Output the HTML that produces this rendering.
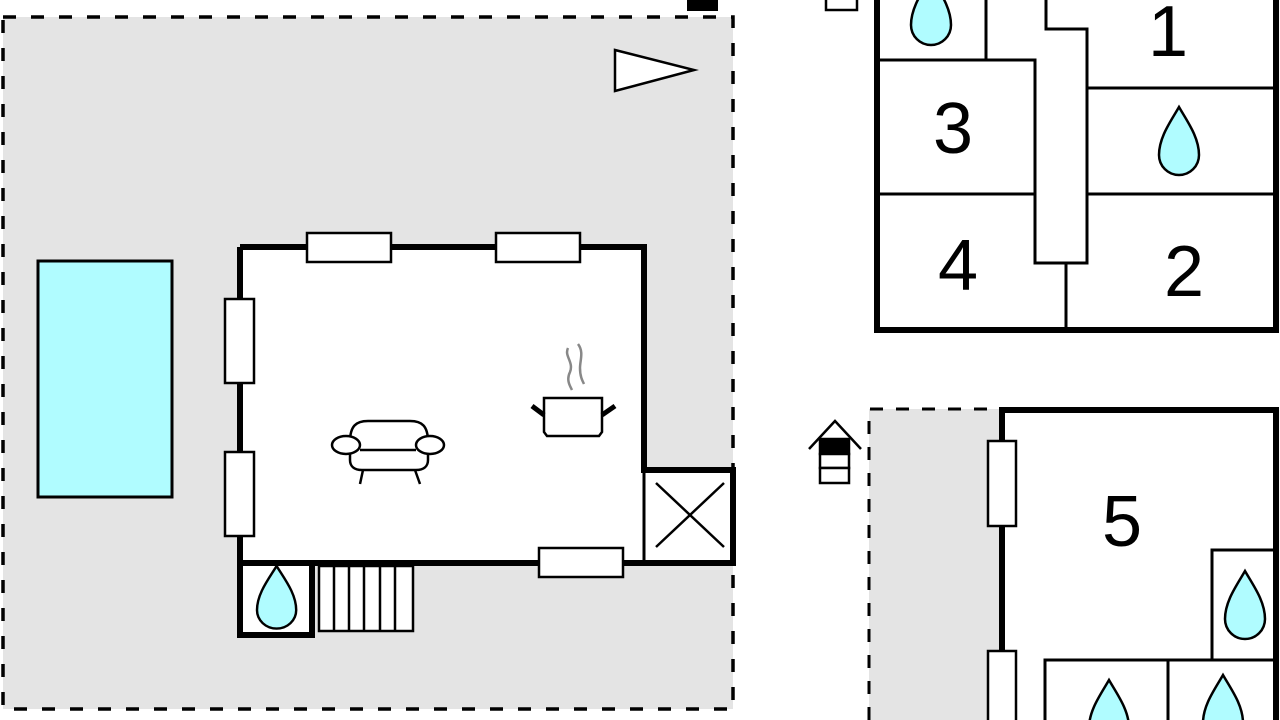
<!DOCTYPE html>
<html><head><meta charset="utf-8"><style>html,body{margin:0;padding:0;background:#fff;width:1280px;height:720px;overflow:hidden}svg{display:block}</style></head>
<body>
<svg width="1280" height="720" viewBox="0 0 1280 720" xmlns="http://www.w3.org/2000/svg">
<defs>
<path id="drop" d="M20 0 C28 14 40 30 40 48 A20 20 0 0 1 0 48 C0 30 12 14 20 0Z" fill="#b0fcff" stroke="#000" stroke-width="2.5"/>
</defs>
<rect x="3" y="17" width="730" height="692" fill="#e4e4e4"/>
<rect x="3" y="17" width="730" height="692" fill="none" stroke="#000" stroke-width="3.5" stroke-dasharray="13 15"/>
<rect x="687" y="0" width="31" height="11" fill="#000"/>
<polygon points="615,50 694,70 615,91" fill="#fff" stroke="#000" stroke-width="2.5"/>
<rect x="38" y="261" width="134" height="236" fill="#b0fcff" stroke="#000" stroke-width="3"/>
<rect x="240" y="247" width="404" height="316" fill="#fff"/>
<rect x="644" y="470" width="89" height="93" fill="#fff"/>
<path d="M240 247 H644 V470 H733 V563 H312 M240 247 V635" fill="none" stroke="#000" stroke-width="6"/>
<line x1="644" y1="470" x2="644" y2="563" stroke="#000" stroke-width="3"/>
<line x1="656" y1="483" x2="724" y2="547" stroke="#000" stroke-width="2.5"/>
<line x1="724" y1="483" x2="656" y2="547" stroke="#000" stroke-width="2.5"/>
<rect x="240" y="563" width="72" height="72" fill="#fff" stroke="#000" stroke-width="6"/>
<use href="#drop" x="257" y="566" transform="translate(257 566) scale(0.98 0.92) translate(-257 -566)"/>
<rect x="319" y="566" width="94" height="65" fill="#fff" stroke="#000" stroke-width="2.5"/>
<path d="M334 566V631M349 566V631M364 566V631M380 566V631M395 566V631" stroke="#000" stroke-width="2.5"/>
<g fill="#fff" stroke="#000" stroke-width="2.5">
<rect x="307" y="233" width="84" height="29"/>
<rect x="496" y="233" width="84" height="29"/>
<rect x="225" y="299" width="29" height="84"/>
<rect x="225" y="452" width="29" height="84"/>
<rect x="539" y="548" width="84" height="29"/>
</g>
<!-- sofa -->
<g fill="#fff" stroke="#000" stroke-width="2.5">
<path d="M350 442 C350 426 356 421 368 421 H410 C422 421 428 426 428 442 V460 C428 466 424 470 416 470 H362 C354 470 350 466 350 460Z"/>
<line x1="360" y1="450" x2="416" y2="450"/>
<ellipse cx="346" cy="445" rx="14" ry="9"/>
<ellipse cx="430" cy="445" rx="14" ry="9"/>
<line x1="363" y1="470" x2="360" y2="484"/><line x1="415" y1="470" x2="420" y2="484"/>
</g>
<g stroke="#000">
<path d="M544 398 H602 V432 L599 436 H547 L544 432Z" fill="#fff" stroke-width="2.5"/>
<line x1="532" y1="406" x2="544" y2="415" stroke-width="5"/>
<line x1="602" y1="415" x2="615" y2="406" stroke-width="5"/>
<path d="M568 348 C564 356 574 362 570 372 C566 380 570 386 572 390" fill="none" stroke="#888" stroke-width="2.5"/>
<path d="M578 344 C584 352 580 360 580 368 C580 376 582 380 584 384" fill="none" stroke="#888" stroke-width="2.5"/>
</g>
<rect x="826" y="-3" width="31" height="13" fill="#fff" stroke="#000" stroke-width="2.5"/>
<g fill="none" stroke="#000" stroke-width="3">
<path d="M986 0 V60 M877 60 H1035 V263 H1087 V29 H1046 V0 M1087 88 H1276 M877 194 H1035 M1087 194 H1276 M1066 263 V330"/>
</g>
<path d="M877 0 V330 H1276 V0" fill="none" stroke="#000" stroke-width="6"/>
<use href="#drop" x="911" y="-23"/>
<use href="#drop" x="1159" y="107"/>
<g font-family="Liberation Sans, sans-serif" font-size="72" text-anchor="middle" fill="#000">
<text x="1168" y="56">1</text>
<text x="953" y="153">3</text>
<text x="958" y="290">4</text>
<text x="1184" y="296">2</text>
<text x="1122" y="546">5</text>
</g>
<rect x="869" y="409" width="133" height="320" fill="#e4e4e4"/>
<path d="M869 720 V409 H1000" fill="none" stroke="#000" stroke-width="3" stroke-dasharray="13 13"/>
<path d="M1002 720 V410 H1276 V720" fill="none" stroke="#000" stroke-width="6"/>
<g fill="none" stroke="#000" stroke-width="3">
<path d="M1212 660 V550 H1276 M1045 720 V660 H1276 M1168 660 V720"/>
</g>
<use href="#drop" x="1225" y="571"/>
<use href="#drop" x="1089" y="680"/>
<use href="#drop" x="1203" y="675"/>
<g fill="#fff" stroke="#000" stroke-width="2.5">
<rect x="988" y="441" width="28" height="85"/>
<rect x="988" y="651" width="28" height="80"/>
</g>
<g stroke="#000" stroke-width="2.5">
<path d="M809 449 L835 421 L861 449" fill="none"/>
<rect x="820" y="439" width="29" height="15" fill="#000"/>
<rect x="820" y="454" width="29" height="14" fill="#fff"/>
<rect x="820" y="468" width="29" height="15" fill="#fff"/>
</g>
</svg>
</body></html>
